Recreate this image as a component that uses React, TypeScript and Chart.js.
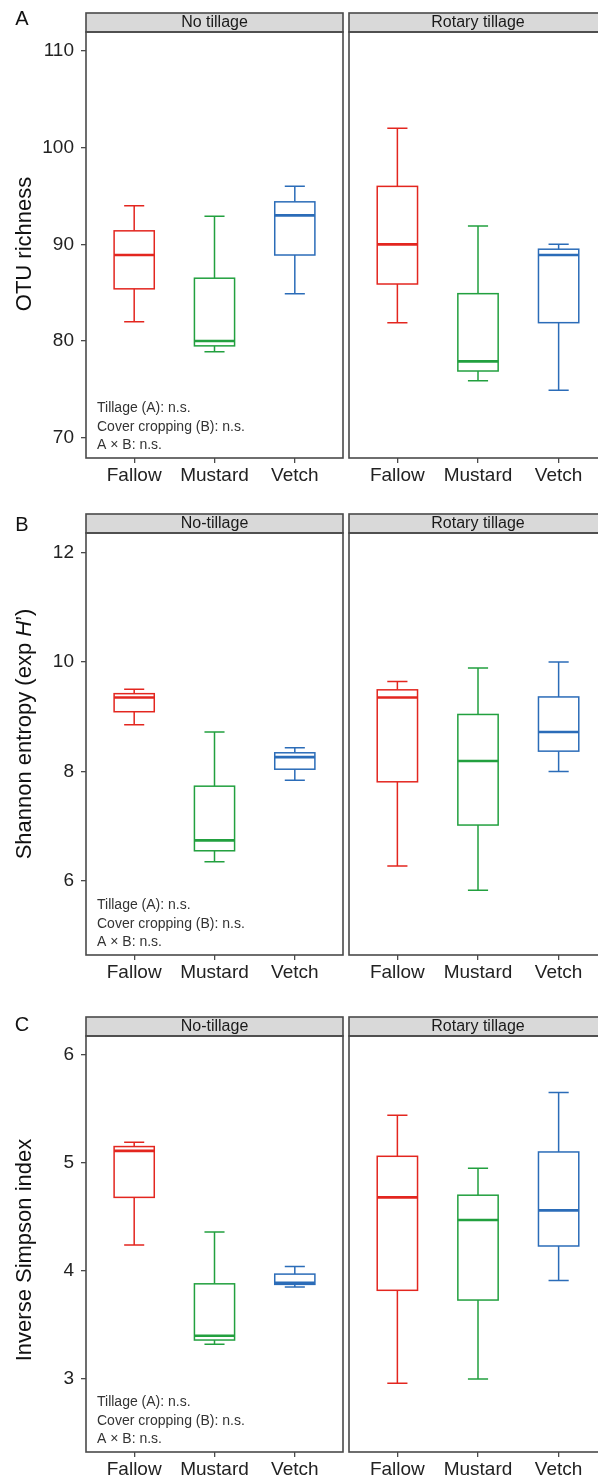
import React, { useEffect, useRef } from 'react';
import { Chart, registerables } from 'chart.js';

Chart.register(...registerables);

// ---------- data ----------
const categories = ['Fallow', 'Mustard', 'Vetch'];
const boxColors = ['#E3261F', '#22A03F', '#2B6CB8'];

// five-number summaries per category: [min, q1, median, q3, max]
const otuNoTillage = [
  [82.0, 85.4, 88.9, 91.4, 94.0],
  [78.9, 79.5, 80.0, 86.5, 92.9],
  [84.9, 88.9, 93.0, 94.4, 96.0],
];
const otuRotaryTillage = [
  [81.9, 85.9, 90.0, 96.0, 102.0],
  [75.9, 76.9, 77.9, 84.9, 91.9],
  [74.9, 81.9, 88.9, 89.5, 90.0],
];
const shannonNoTillage = [
  [8.85, 9.09, 9.35, 9.42, 9.5],
  [6.35, 6.55, 6.74, 7.73, 8.72],
  [7.84, 8.04, 8.26, 8.34, 8.43],
];
const shannonRotaryTillage = [
  [6.27, 7.81, 9.35, 9.49, 9.64],
  [5.83, 7.02, 8.19, 9.04, 9.89],
  [8.0, 8.37, 8.72, 9.36, 10.0],
];
const simpsonNoTillage = [
  [4.24, 4.68, 5.11, 5.15, 5.19],
  [3.32, 3.36, 3.4, 3.88, 4.36],
  [3.85, 3.875, 3.89, 3.97, 4.04],
];
const simpsonRotaryTillage = [
  [2.96, 3.82, 4.68, 5.06, 5.44],
  [3.0, 3.73, 4.47, 4.7, 4.95],
  [3.91, 4.23, 4.56, 5.1, 5.65],
];

const otuTicks = [70, 80, 90, 100, 110];
const shannonTicks = [6, 8, 10, 12];
const simpsonTicks = [3, 4, 5, 6];

const statsLines = ['Tillage (A): n.s.', 'Cover cropping (B): n.s.', 'A × B: n.s.'];

// ---------- styling / layout ----------
const FONT = '"Liberation Sans", Arial, Helvetica, sans-serif';
const FRAME = '#4A4A4A';
const TEXT = '#222222';
const BOX_HALF = 0.25;
const CAP_HALF = 0.125;
const STRIP_H = 19;
const PAD_TOP = 32;
const X_AXIS_H = 32;
const Y_AXIS_W = 86;

type Seg = { text: string; italic?: boolean };
interface Facet { label: string; boxes: number[][] }
interface Panel {
  letter: string;
  canvasTop: number;
  canvasHeight: number;
  letterY: number;
  yMin: number;
  yMax: number;
  ticks: number[];
  title: Seg[];
  titleY: number;
  facets: Facet[];
}

const panels: Panel[] = [
  {
    letter: 'A', canvasTop: 0, canvasHeight: 490, letterY: 19,
    yMin: 67.9, yMax: 111.97, ticks: otuTicks,
    title: [{ text: 'OTU richness' }], titleY: 244,
    facets: [
      { label: 'No tillage', boxes: otuNoTillage },
      { label: 'Rotary tillage', boxes: otuRotaryTillage },
    ],
  },
  {
    letter: 'B', canvasTop: 501, canvasHeight: 486, letterY: 24,
    yMin: 4.646, yMax: 12.355, ticks: shannonTicks,
    title: [{ text: 'Shannon entropy (exp ' }, { text: 'H', italic: true }, { text: '’)' }], titleY: 233,
    facets: [
      { label: 'No-tillage', boxes: shannonNoTillage },
      { label: 'Rotary tillage', boxes: shannonRotaryTillage },
    ],
  },
  {
    letter: 'C', canvasTop: 1004, canvasHeight: 480, letterY: 21,
    yMin: 2.324, yMax: 6.173, ticks: simpsonTicks,
    title: [{ text: 'Inverse Simpson index' }], titleY: 246,
    facets: [
      { label: 'No-tillage', boxes: simpsonNoTillage },
      { label: 'Rotary tillage', boxes: simpsonRotaryTillage },
    ],
  },
];

function makeChart(canvas: HTMLCanvasElement, panel: Panel, facetIndex: number) {
  const facet = panel.facets[facetIndex];
  const isLeft = facetIndex === 0;

  const facetPlugin = {
    id: 'facetDecor',
    afterDraw(chart: any) {
      const { ctx, chartArea: a } = chart;
      const x = chart.scales.x;
      const y = chart.scales.y;
      ctx.save();

      // boxplots
      facet.boxes.forEach((s, i) => {
        const cx = x.getPixelForValue(i + 1);
        const half = x.getPixelForValue(i + 1 + BOX_HALF) - cx;
        const cap = x.getPixelForValue(i + 1 + CAP_HALF) - cx;
        const [mn, q1, md, q3, mx] = s.map((v) => y.getPixelForValue(v));
        ctx.strokeStyle = boxColors[i];
        ctx.lineWidth = 1.5;
        ctx.lineCap = 'butt';
        ctx.beginPath();
        ctx.moveTo(cx, mn); ctx.lineTo(cx, q1);
        ctx.moveTo(cx, q3); ctx.lineTo(cx, mx);
        ctx.moveTo(cx - cap, mn); ctx.lineTo(cx + cap, mn);
        ctx.moveTo(cx - cap, mx); ctx.lineTo(cx + cap, mx);
        ctx.stroke();
        ctx.fillStyle = '#ffffff';
        ctx.fillRect(cx - half, q3, 2 * half, q1 - q3);
        ctx.strokeRect(cx - half, q3, 2 * half, q1 - q3);
        ctx.lineWidth = 2.6;
        ctx.beginPath();
        ctx.moveTo(cx - half, md); ctx.lineTo(cx + half, md);
        ctx.stroke();
      });

      // strip
      ctx.fillStyle = '#D9D9D9';
      ctx.fillRect(a.left, a.top - STRIP_H, a.right - a.left, STRIP_H);
      ctx.strokeStyle = FRAME;
      ctx.lineWidth = 1.6;
      ctx.strokeRect(a.left, a.top - STRIP_H, a.right - a.left, STRIP_H);
      ctx.strokeRect(a.left, a.top, a.right - a.left, a.bottom - a.top);
      ctx.fillStyle = '#1A1A1A';
      ctx.font = `16px ${FONT}`;
      ctx.textAlign = 'center';
      ctx.textBaseline = 'middle';
      ctx.fillText(facet.label, (a.left + a.right) / 2, a.top - STRIP_H / 2 + 0.5);

      if (isLeft) {
        // statistics note
        ctx.font = `14px ${FONT}`;
        ctx.fillStyle = '#333333';
        ctx.textAlign = 'left';
        statsLines.forEach((line, k) => {
          const yy = a.bottom - 12.5 - 18.6 * (statsLines.length - 1 - k);
          ctx.fillText(line, a.left + 11, yy);
        });

        // y axis title (rich text)
        ctx.save();
        ctx.translate(25, panel.titleY);
        ctx.rotate(-Math.PI / 2);
        ctx.fillStyle = '#111111';
        ctx.textBaseline = 'middle';
        ctx.textAlign = 'left';
        const fonts = panel.title.map((sg) => `${sg.italic ? 'italic ' : ''}22px ${FONT}`);
        const widths = panel.title.map((sg, k) => { ctx.font = fonts[k]; return ctx.measureText(sg.text).width; });
        const total = widths.reduce((p, c) => p + c, 0);
        let pos = -total / 2;
        panel.title.forEach((sg, k) => {
          ctx.font = fonts[k];
          ctx.fillText(sg.text, pos, 0);
          pos += widths[k];
        });
        ctx.restore();

        // panel letter
        ctx.font = `20px ${FONT}`;
        ctx.fillStyle = '#111111';
        ctx.textAlign = 'center';
        ctx.textBaseline = 'middle';
        ctx.fillText(panel.letter, 22, panel.letterY);
      }
      ctx.restore();
    },
  };

  const grid = {
    display: true,
    drawOnChartArea: false,
    drawTicks: true,
    tickLength: 5,
    color: FRAME,
    lineWidth: 1.3,
  };

  return new Chart(canvas, {
    type: 'scatter',
    data: { datasets: [] },
    options: {
      animation: false,
      responsive: false,
      maintainAspectRatio: false,
      devicePixelRatio: 1,
      layout: {
        padding: { top: PAD_TOP, left: isLeft ? 0 : 6, right: isLeft ? 3 : 6, bottom: 0 },
      },
      plugins: {
        legend: { display: false },
        tooltip: { enabled: false },
        title: { display: false },
      },
      scales: {
        x: {
          type: 'linear',
          min: 0.4,
          max: 3.6,
          afterBuildTicks: (s: any) => {
            s.ticks = categories.map((_, i) => ({ value: i + 1 }));
          },
          afterFit: (s: any) => { s.height = X_AXIS_H; },
          ticks: {
            callback: (v: any) => categories[Math.round(Number(v)) - 1] ?? '',
            font: { family: FONT, size: 19 },
            color: TEXT,
            padding: 1,
            autoSkip: false,
            maxRotation: 0,
            minRotation: 0,
          },
          grid,
          border: { display: false },
        },
        y: {
          type: 'linear',
          display: isLeft,
          min: panel.yMin,
          max: panel.yMax,
          afterBuildTicks: (s: any) => {
            s.ticks = panel.ticks.map((v) => ({ value: v }));
          },
          afterFit: (s: any) => { s.width = isLeft ? Y_AXIS_W : 0; },
          ticks: {
            font: { family: FONT, size: 19 },
            color: TEXT,
            padding: 7,
            autoSkip: false,
          },
          grid,
          border: { display: false },
        },
      },
    } as any,
    plugins: [facetPlugin],
  });
}

function PanelView({ panel }: { panel: Panel }) {
  const leftRef = useRef<HTMLCanvasElement>(null);
  const rightRef = useRef<HTMLCanvasElement>(null);
  useEffect(() => {
    const c1 = makeChart(leftRef.current!, panel, 0);
    const c2 = makeChart(rightRef.current!, panel, 1);
    return () => { c1.destroy(); c2.destroy(); };
  }, [panel]);
  return (
    <>
      <canvas
        ref={rightRef}
        width={270}
        height={panel.canvasHeight}
        style={{ position: 'absolute', left: 343, top: panel.canvasTop, width: 270, height: panel.canvasHeight }}
      />
      <canvas
        ref={leftRef}
        width={346}
        height={panel.canvasHeight}
        style={{ position: 'absolute', left: 0, top: panel.canvasTop, width: 346, height: panel.canvasHeight }}
      />
    </>
  );
}

export default function App() {
  return (
    <div
      style={{
        position: 'absolute',
        left: 0,
        top: 0,
        width: 598,
        height: 1483,
        overflow: 'hidden',
        background: '#ffffff',
      }}
    >
      {panels.map((p) => (
        <PanelView key={p.letter} panel={p} />
      ))}
    </div>
  );
}
